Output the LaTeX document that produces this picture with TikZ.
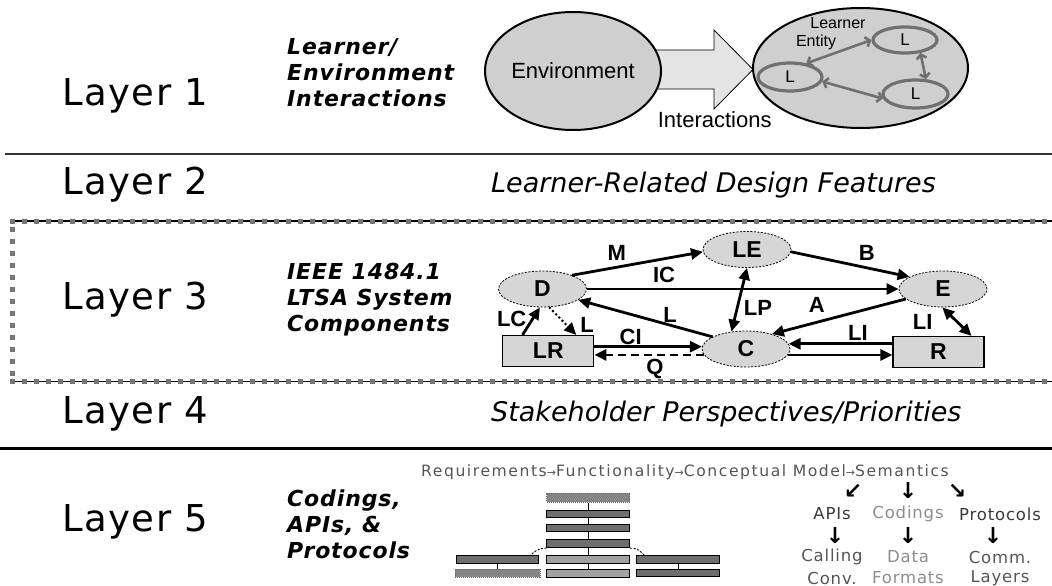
\documentclass[tikz,border=0pt]{standalone}
\usepackage{fontspec}
\setmainfont{DejaVu Sans}
\newfontfamily\layerfam[LetterSpace=4]{DejaVu Sans}
\newfontfamily\descfam[LetterSpace=4]{DejaVu Sans}
\newfontfamily\bandfam{DejaVu Sans}
\newfontfamily\graphfam{Liberation Sans}
\newfontfamily\notefam{Liberation Sans}
\newfontfamily\notewide[LetterSpace=5]{DejaVu Sans}
\newfontfamily\chainfam[LetterSpace=10]{DejaVu Sans}
\newfontfamily\arrowfam{DejaVu Sans}
\usetikzlibrary{arrows.meta,shapes.geometric}

\definecolor{dashgray}{HTML}{767676}
\definecolor{halftone}{HTML}{CFCFCF}
\definecolor{arrowfill}{HTML}{E4E4E4}
\definecolor{compfill}{HTML}{D6D6D6}
\definecolor{learnergray}{HTML}{707070}
\definecolor{bardark}{HTML}{6E6E6E}
\definecolor{barlight}{HTML}{A2A2A2}
\definecolor{notedark}{HTML}{3A3A3A}
\definecolor{notegray}{HTML}{555555}
\definecolor{notelight}{HTML}{8E8E8E}

\begin{document}
\begin{tikzpicture}[x=1pt,y=-1pt,
  layerlabel/.style={anchor=west,inner sep=0pt,font=\layerfam\fontsize{37}{40}\selectfont},
  layerdesc/.style={anchor=west,inner sep=0pt,align=left,font=\descfam\bfseries\itshape\fontsize{22}{26}\selectfont},
  bandtext/.style={anchor=west,inner sep=0pt,font=\bandfam\itshape\fontsize{27}{30}\selectfont},
  comp/.style={ellipse,draw=black,line width=0.8pt,dash pattern=on 2pt off 1.5pt,fill=compfill,
    minimum width=88pt,minimum height=36pt,inner sep=0pt,font=\graphfam\bfseries\fontsize{23}{25}\selectfont},
  store/.style={rectangle,draw=black,line width=1.2pt,fill=compfill,minimum width=91pt,
    minimum height=31pt,inner sep=0pt,font=\graphfam\bfseries\fontsize{23}{25}\selectfont},
  flowlabel/.style={inner sep=0pt,font=\graphfam\bfseries\fontsize{22}{24}\selectfont},
  flow/.style={line width=2.8pt,-{Triangle[length=12pt,width=11pt]}},
  flowboth/.style={line width=2.8pt,{Triangle[length=12pt,width=11pt]}-{Triangle[length=12pt,width=11pt]}},
  learner/.style={ellipse,draw=learnergray,line width=3.2pt,inner sep=0pt,font=\notefam\fontsize{17}{19}\selectfont},
  talk/.style={draw=learnergray,line width=2.6pt,{Straight Barb[length=4pt,width=10pt]}-{Straight Barb[length=4pt,width=10pt]}},
  note/.style={inner sep=0pt,font=\notefam\fontsize{22}{24}\selectfont},
  tiny/.style={inner sep=0pt,font=\notefam\fontsize{16}{18}\selectfont},
  outcome/.style={inner sep=0pt,font=\notewide\fontsize{16.5}{19}\selectfont},
  pointer/.style={inner sep=0pt,text height=14pt,text depth=0pt,font=\arrowfam\bfseries\fontsize{22}{24}\selectfont},
  bar/.style={rectangle,draw=black,line width=0.8pt,fill=bardark,minimum width=83pt,minimum height=7.5pt,inner sep=0pt},
  dotbar/.style={draw=black!60,dash pattern=on 1pt off 1pt,fill=black!48},
  barlink/.style={line width=0.9pt},
  sepline/.style={line width=2pt,draw=black!80},
  dashsep/.style={line width=5pt,draw=dashgray,dash pattern=on 5pt off 7pt}]

\useasboundingbox (0,0) rectangle (1052,586);
\fill[white] (0,0) rectangle (1052,586);

% ---- layer separators ----
\draw[sepline] (5,154) -- (1052,154);
\draw[line width=1.2pt] (10,221) -- (1052,221);
\draw[dashsep] (10,221) -- (1052,221);
\draw[line width=1.2pt] (10,381.5) -- (1052,381.5);
\draw[dashsep] (10,381.5) -- (1052,381.5);
\draw[dashsep] (12,227) -- (12,378);
\draw[line width=3pt] (0,448) -- (1052,448);

% ---- layer names ----
\node[layerlabel] (layer1) at (62,96) {Layer 1};
\node[layerlabel] (layer2) at (62,185) {Layer 2};
\node[layerlabel] (layer3) at (62,300) {Layer 3};
\node[layerlabel] (layer4) at (62,414) {Layer 4};
\node[layerlabel] (layer5) at (62,522) {Layer 5};

\node[layerdesc] (desc1) at (287,73) {Learner/\\Environment\\Interactions};
\node[layerdesc] (desc3) at (287,300) {IEEE 1484.1\\LTSA System\\Components};
\node[layerdesc] (desc5) at (287,524) {Codings,\\APIs, \&\\Protocols};

\node[bandtext] (band2) at (491,185) {Learner-Related Design Features};
\node[bandtext] (band4) at (491,414) {Stakeholder Perspectives/Priorities};

% ---- layer 1: environment and learner entity ----
\draw[line width=0.8pt,fill=arrowfill] (650,50) -- (714,50) -- (714,30) -- (753,69.5)
  -- (714,109) -- (714,89) -- (650,89) -- cycle;
\node[ellipse,draw=black,line width=2pt,fill=halftone,minimum width=176pt,minimum height=118pt,
  inner sep=0pt,font=\notefam\fontsize{22}{24}\selectfont] (env) at (573,71) {Environment};
\node[note] (interactions) at (714.7,120) {Interactions};
\node[ellipse,draw=black,line width=2pt,fill=halftone,minimum width=215pt,minimum height=120pt,
  inner sep=0pt] (entity) at (860.5,68) {};
\node[tiny] (learnerword) at (838,23) {Learner};
\node[tiny] (entityword) at (816,42) {Entity};
\node[learner,minimum width=64pt,minimum height=26pt] (l1) at (905,40) {L};
\node[learner,minimum width=64pt,minimum height=28pt] (l2) at (790,77) {L};
\node[learner,minimum width=65pt,minimum height=28pt] (l3) at (915.5,94) {L};
\draw[talk] (l2.40) -- (l1.180);
\draw[talk] (l2.-8) -- (l3.188);
\draw[talk] (l1.-40) -- (l3.55);

% ---- layer 3: LTSA components ----
\node[comp] (D) at (542.5,289) {D};
\node[comp] (LE) at (747,249.5) {LE};
\node[comp] (E) at (943,289) {E};
\node[comp] (C) at (746,349) {C};
\node[store] (LR) at (548.3,351) {LR};
\node[store] (R) at (938.5,352) {R};

\draw[flow] (D.25) -- (LE.183);
\draw[flow] (D.east) -- (E.west);
\draw[flow] (LE.-3) -- (E.160);
\draw[flow] (C.160) -- (D.-17);
\draw[flowboth] (LE.south) -- (C.130);
\draw[flow] (E.195) -- (C.30);
\draw[flow] (R.west |- C.7) -- (C.7);
\draw[flow] (C.-8) -- (C.-8 -| R.west);
\draw[flowboth] (E.268) -- (R.26);
\draw[flow] (C.177 -| LR.east) -- (C.177);
\draw[flow,dash pattern=on 8pt off 5pt] (C.188) -- (C.188 -| LR.east);
\draw[flow] (LR.148) -- (D.262);
\draw[flow,line width=2pt,dash pattern=on 2pt off 2.5pt] (D.290) -- (LR.30);

\node[flowlabel] (lblM) at (616.7,253) {M};
\node[flowlabel] (lblIC) at (664,275) {IC};
\node[flowlabel] (lblB) at (866.7,253) {B};
\node[flowlabel] (lblL) at (670,315) {L};
\node[flowlabel] (lblLP) at (758,308) {LP};
\node[flowlabel] (lblA) at (816.7,305) {A};
\node[flowlabel] (lblLI) at (858,333) {LI};
\node[flowlabel] (lblLIb) at (922.7,321.7) {LI};
\node[flowlabel] (lblCI) at (630.7,336.7) {CI};
\node[flowlabel] (lblQ) at (655,369) {Q};
\node[flowlabel] (lblLC) at (511.7,319) {LC};
\node[flowlabel] (lblLd) at (587,325) {L};

% ---- layer 5: codings, APIs and protocols ----
\node[anchor=west,inner sep=0pt,text=notegray,font=\chainfam\fontsize{15.6}{18}\selectfont] (chain) at (421,472)
  {Requirements{\arrowfam\fontsize{11}{11}\selectfont→}Functionality{\arrowfam\fontsize{11}{11}\selectfont→}Conceptual Model{\arrowfam\fontsize{11}{11}\selectfont→}Semantics};

\node[pointer] (toapis) at (853,491) {↙};
\node[pointer] (tocodings) at (908,491) {↓};
\node[pointer] (toprotocols) at (957,491) {↘};
\node[outcome,text=notedark] (apis) at (832,514) {APIs};
\node[outcome,text=notelight] (codings) at (908,514) {Codings};
\node[outcome,text=notedark] (protocols) at (1000,514) {Protocols};
\node[pointer] (tocalling) at (835,536) {↓};
\node[pointer] (todata) at (908,536) {↓};
\node[pointer] (tocomm) at (993,536) {↓};
\node[outcome,text=notegray] (calling) at (832,557) {Calling};
\node[outcome,text=notegray] (conv) at (832,578) {Conv.};
\node[outcome,text=notelight] (data) at (908,557) {Data};
\node[outcome,text=notelight] (formats) at (908,578) {Formats};
\node[outcome,text=notegray] (comm) at (1000,557) {Comm.};
\node[outcome,text=notegray] (layers) at (1000,578) {Layers};

% stacked protocol bars
\node[bar,dotbar,minimum height=9pt] (s0) at (588.3,497.8) {};
\node[bar] (s1) at (588.3,513.7) {};
\node[bar] (s2) at (588.3,528) {};
\node[bar,minimum height=8.5pt] (s3) at (588.3,543.5) {};
\node[bar,fill=barlight] (sm1) at (588.3,559.3) {};
\node[bar,fill=barlight,minimum height=8pt] (sm2) at (588.3,573) {};
\node[bar,minimum width=81.6pt] (sl1) at (497.5,559.3) {};
\node[bar,dotbar,minimum width=85pt,minimum height=8pt] (sl2) at (497.5,573) {};
\node[bar] (sr1) at (678,559.3) {};
\node[bar] (sr2) at (678,573) {};
\draw[barlink] (s0.south) -- (s1.north);
\draw[barlink] (s1.south) -- (s2.north);
\draw[barlink] (s2.south) -- (s3.north);
\draw[barlink] (s3.south) -- (sm1.north);
\draw[barlink] (sm1.south) -- (sm2.north);
\draw[barlink] (sl1.south) -- (sl2.north);
\draw[barlink] (sr1.south) -- (sr2.north);
\draw[barlink,dash pattern=on 2pt off 1.5pt] (s3.south west) .. controls +(-8,0) and +(4,-4) .. ([xshift=-8pt]sl1.north east);
\draw[barlink,dash pattern=on 2pt off 1.5pt] (s3.south east) .. controls +(8,0) and +(-4,-4) .. ([xshift=8pt]sr1.north west);
\end{tikzpicture}
\end{document}
